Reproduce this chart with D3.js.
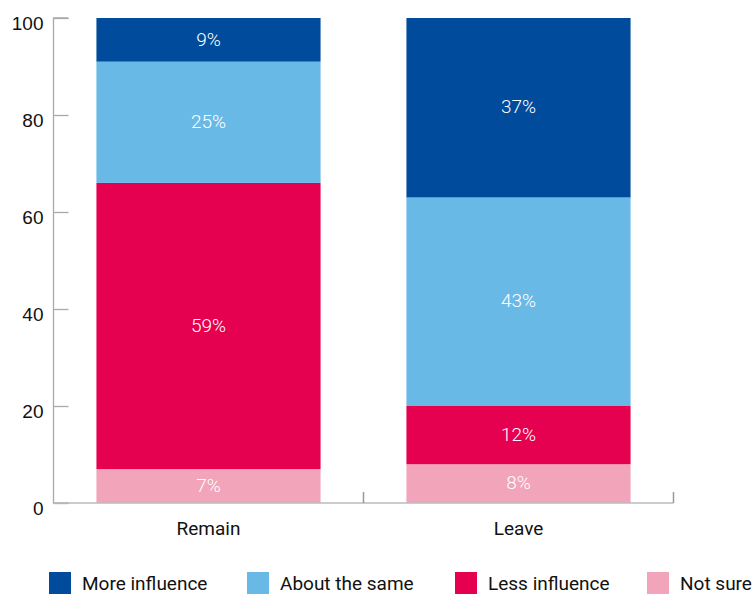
<!DOCTYPE html>
<html>
<head>
<meta charset="utf-8">
<script src="https://cdn.jsdelivr.net/npm/d3@7"></script>
<style>
  body { margin: 0; background: #fff; }
  svg { display: block; font-family: Roboto, "Open Sans", sans-serif; }
</style>
</head>
<body>
<svg id="chart" width="753" height="594"></svg>
<script>
// Stacked shares by group (percent), bottom to top
const groups = ["Remain", "Leave"];
const seriesNames = ["Not sure", "Less influence", "About the same", "More influence"];
const notSure = [7, 8];
const lessInfluence = [59, 12];
const aboutTheSame = [25, 43];
const moreInfluence = [9, 37];
const yTicks = [0, 20, 40, 60, 80, 100];
const legendOrder = ["More influence", "About the same", "Less influence", "Not sure"];

const colors = {
  "More influence": "#004b9c",
  "About the same": "#69b9e7",
  "Less influence": "#e60050",
  "Not sure": "#f2a4bb"
};

const rows = groups.map((g, i) => ({
  group: g,
  "Not sure": notSure[i],
  "Less influence": lessInfluence[i],
  "About the same": aboutTheSame[i],
  "More influence": moreInfluence[i]
}));

const svg = d3.select("#chart");
const plotLeft = 53.5, plotRight = 673.5, plotTop = 18, plotBottom = 503;

const x = d3.scaleBand().domain(groups).range([plotLeft, plotRight]).paddingInner(0.277).paddingOuter(0.1385);
const y = d3.scaleLinear().domain([0, 100]).range([plotBottom, plotTop]);

const stack = d3.stack().keys(seriesNames);
const layers = stack(rows);

// Bars
const layerG = svg.append("g").selectAll("g").data(layers).join("g")
  .attr("fill", d => colors[d.key]);

layerG.selectAll("rect").data(d => d).join("rect")
  .attr("x", d => x(d.data.group))
  .attr("width", x.bandwidth())
  .attr("y", d => y(d[1]))
  .attr("height", d => y(d[0]) - y(d[1]));

// Value labels inside segments
layerG.selectAll("text").data(d => d.map(s => ({s, key: d.key}))).join("text")
  .attr("x", d => x(d.s.data.group) + x.bandwidth() / 2)
  .attr("y", d => (y(d.s[0]) + y(d.s[1])) / 2)
  .attr("dy", "0.3em")
  .attr("text-anchor", "middle")
  .attr("fill", "#fff")
  .style("font-size", "19px")
  .style("font-weight", 300)
  .text(d => (d.s[1] - d.s[0]) + "%");

// Y axis: ticks point inward
const yAxis = svg.append("g").attr("transform", `translate(${plotLeft},0)`)
  .call(d3.axisRight(y).tickValues(yTicks).tickSize(15).tickFormat(d3.format("d")));
yAxis.select(".domain").attr("stroke", "#aaa").attr("stroke-width", 1.3).attr("d", `M15,${plotTop}H0V${plotBottom}H15`);
yAxis.selectAll(".tick line").attr("stroke", "#aaa").attr("stroke-width", 1.3);
yAxis.selectAll(".tick text")
  .attr("x", -10).attr("dy", "0.62em")
  .attr("text-anchor", "end")
  .attr("fill", "#111")
  .style("font-size", "19px");

// X axis: boundary ticks between groups, pointing up
const xAxisG = svg.append("g");
xAxisG.append("line")
  .attr("x1", plotLeft).attr("x2", plotRight)
  .attr("y1", plotBottom).attr("y2", plotBottom)
  .attr("stroke", "#bbb").attr("stroke-width", 1.5);
const boundaries = [(x(groups[0]) + x.bandwidth() + x(groups[1])) / 2, plotRight];
xAxisG.selectAll("line.b").data(boundaries).join("line")
  .attr("class", "b")
  .attr("x1", d => d).attr("x2", d => d)
  .attr("y1", plotBottom).attr("y2", plotBottom - 11)
  .attr("stroke", "#999").attr("stroke-width", 1.5);
xAxisG.selectAll("text").data(groups).join("text")
  .attr("x", d => x(d) + x.bandwidth() / 2)
  .attr("y", 535)
  .attr("text-anchor", "middle")
  .attr("fill", "#111")
  .style("font-size", "19px")
  .text(d => d);

// Legend
const legendX = [49, 247, 455, 647];
const legend = svg.append("g").selectAll("g").data(legendOrder).join("g")
  .attr("transform", (d, i) => `translate(${legendX[i]},572)`);
legend.append("rect").attr("width", 22).attr("height", 22).attr("fill", d => colors[d]);
legend.append("text")
  .attr("x", 33).attr("y", 18)
  .attr("fill", "#111")
  .style("font-size", "19px")
  .text(d => d);
</script>
</body>
</html>
